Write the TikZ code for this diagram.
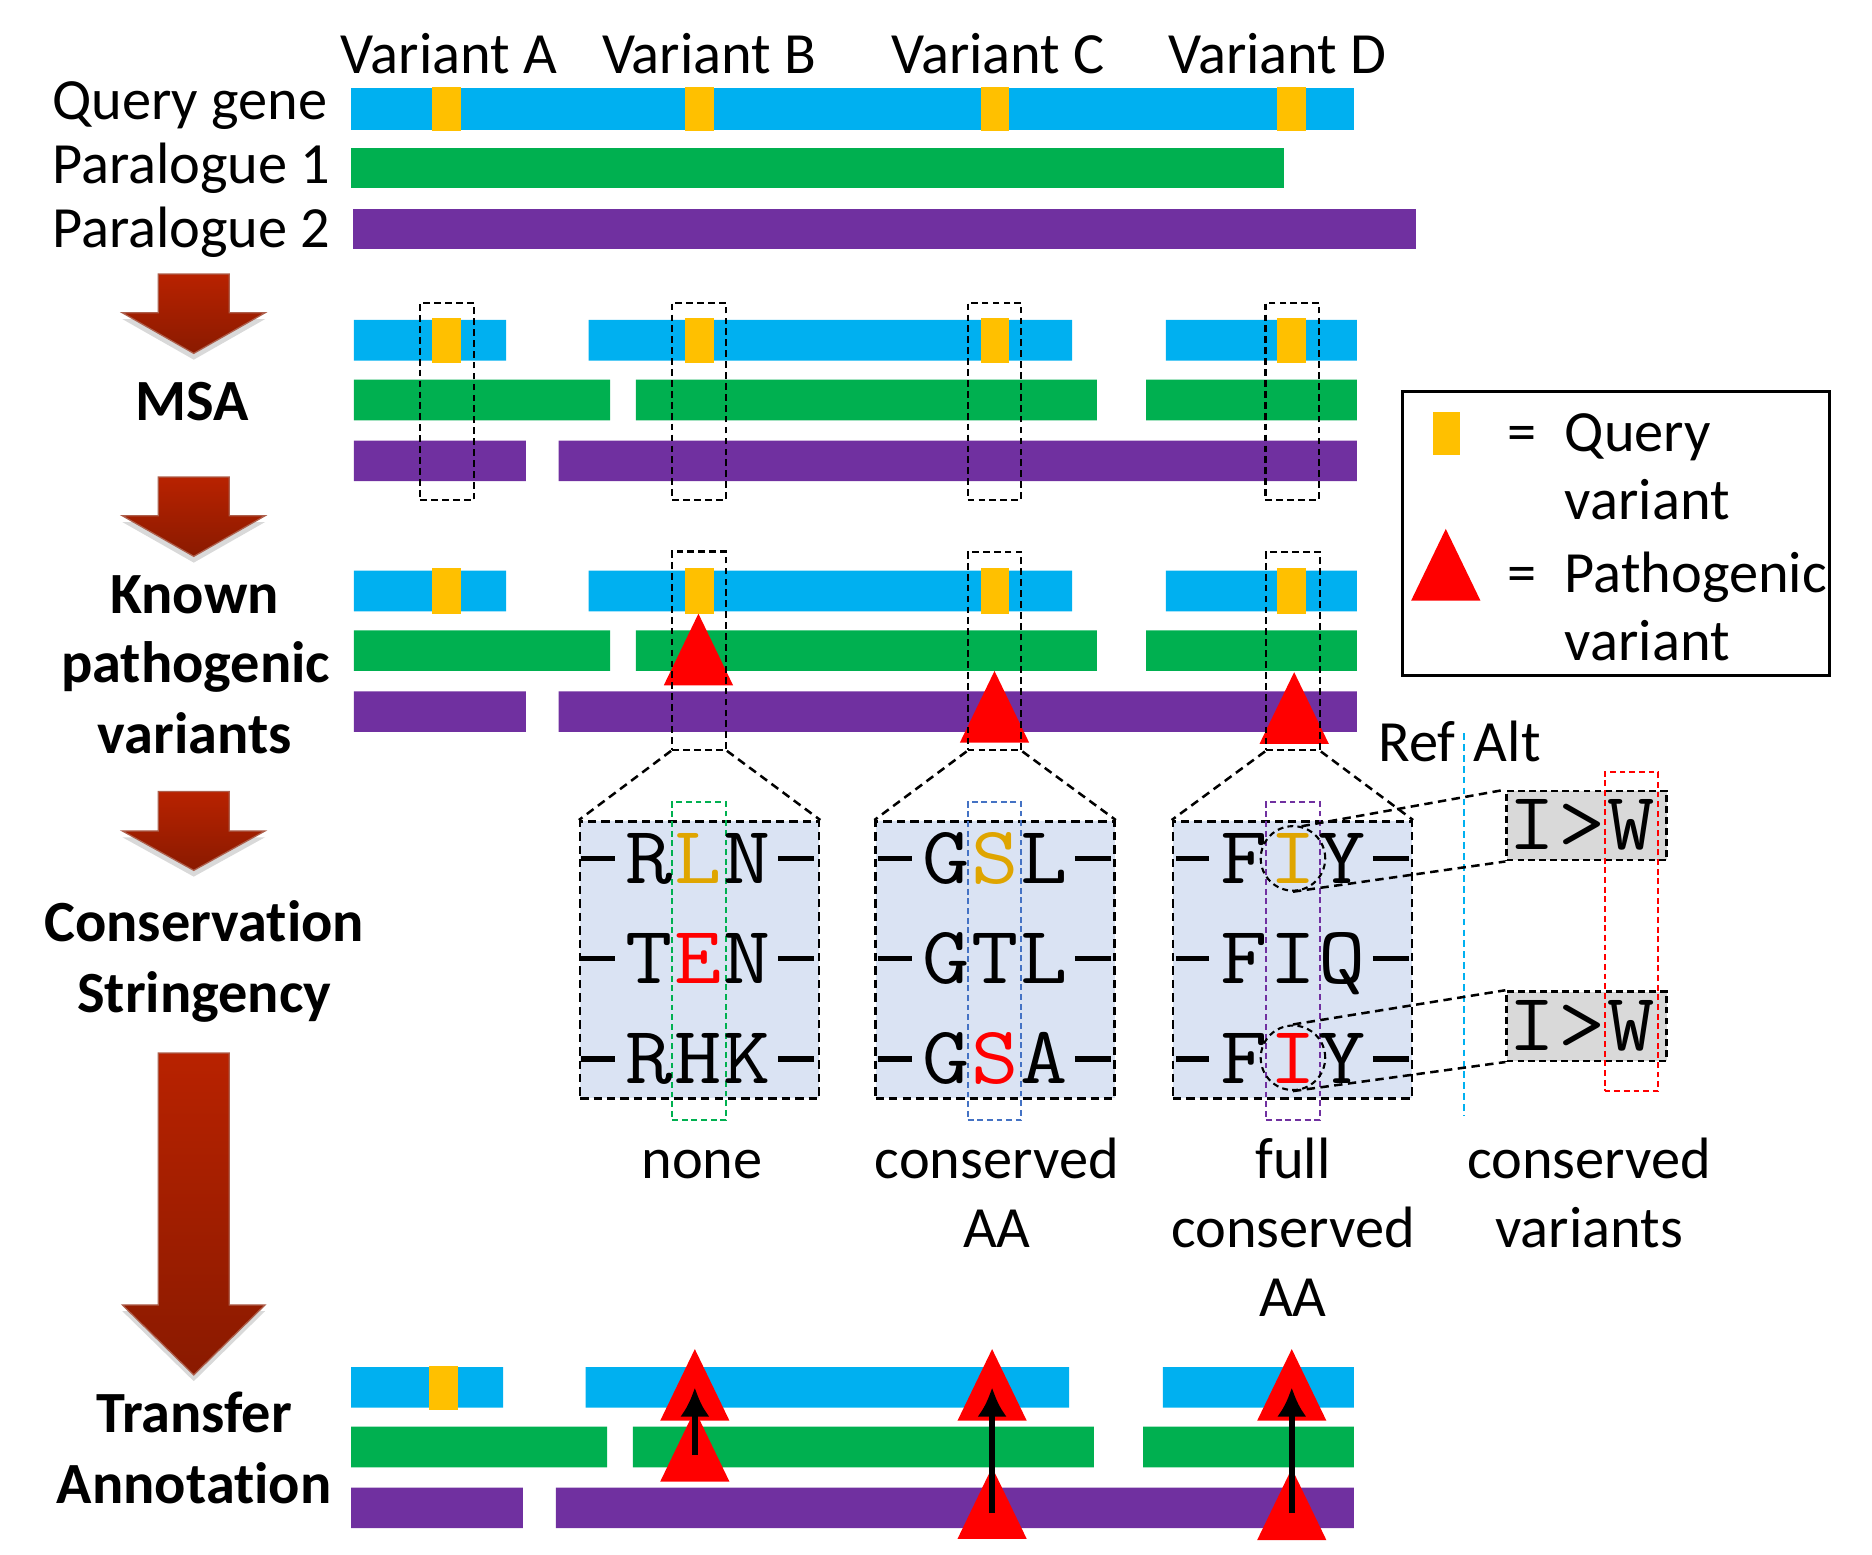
\documentclass[tikz,border=0pt]{standalone}
\usepackage{graphicx}
\usepackage{fontspec}
\setmainfont{Carlito}[Ligatures=NoCommon]
\usetikzlibrary{arrows.meta,shadows}
\definecolor{qblue}{HTML}{00B0F0}
\definecolor{pgreen}{HTML}{00B050}
\definecolor{ppurple}{HTML}{7030A0}
\definecolor{qyellow}{HTML}{FFC000}
\definecolor{patho}{HTML}{FF0000}
\definecolor{detfill}{HTML}{DAE3F3}
\definecolor{iwgray}{HTML}{D9D9D9}
\definecolor{aaorange}{HTML}{DFA500}
\definecolor{colblue}{HTML}{4472C4}
\definecolor{arrtop}{HTML}{B82200}
\definecolor{arrbot}{HTML}{8A1A00}

% big step arrow: top of shaft, shoulder, tip
\newcommand{\stagearrow}[3]{%
  \path[stagearr] (132.5,#1) -- (192,#1) -- (192,#2) -- (222,#2) -- (162.3,#3)
    -- (102.5,#2) -- (132.5,#2) -- cycle;}
% pathogenic triangle: x of tip, y of tip
\newcommand{\redtri}[2]{%
  \fill[patho] (#1-29,#2+60) -- (#1,#2) -- (#1+29,#2+60) -- cycle;}
% wide mono letter
\newcommand{\aaletter}[1]{\scalebox{1.12}[1]{#1}}
% one aligned row -X-Y-Z-
\newcommand{\aarow}[6]{%
  \node[aa] (#1-1) at (#2-41,#3) {\aaletter{#4}};
  \node[aa] (#1-2) at (#2,#3) {\aaletter{#5}};
  \node[aa] (#1-3) at (#2+41,#3) {\aaletter{#6}};
  \draw[aadash] (#2-98,#3) -- (#2-70,#3);
  \draw[aadash] (#2+67,#3) -- (#2+97,#3);}

\begin{document}
\begin{tikzpicture}[x=0.01cm,y=-0.01cm,
  lbl/.style={font=\fontsize{13.9}{16}\selectfont,inner sep=0pt},
  sect/.style={font=\fontsize{13.9}{16}\selectfont\bfseries,inner sep=0pt},
  aa/.style={font=\fontsize{19.5}{20}\selectfont\ttfamily,inner sep=0pt,text height=0.415cm,text depth=0cm},
  aadash/.style={line width=1.2pt},
  selbox/.style={draw,dash pattern=on 1.6pt off 1pt,line width=0.5pt,minimum width=0.45cm,inner sep=0pt},
  detbox/.style={draw,fill=detfill,dash pattern=on 2pt off 1.2pt,line width=0.6pt,minimum width=2cm,minimum height=2.32cm,inner sep=0pt},
  colbox/.style={dash pattern=on 1.4pt off 0.9pt,line width=0.5pt,minimum width=0.45cm,minimum height=2.66cm,inner sep=0pt},
  iwbox/.style={draw,fill=iwgray,dash pattern=on 1.6pt off 1pt,line width=0.6pt,minimum width=1.34cm,minimum height=0.58cm,inner sep=0pt},
  ring/.style={draw,circle,dash pattern=on 1.4pt off 1pt,line width=0.5pt,minimum size=0.54cm,inner sep=0pt},
  zoomline/.style={dash pattern=on 2pt off 1.3pt,line width=0.6pt},
  transfer/.style={line width=1.3pt,-{Latex[length=7pt,width=7pt]}},
  stagearr/.style={top color=arrtop,bottom color=arrbot,draw=arrbot!70!white,line width=0.3pt,
    drop shadow={shadow xshift=0pt,shadow yshift=-1.5pt,opacity=0.3}}]
\useasboundingbox (0,0) rectangle (1568,1302);

% genes
\node[lbl,anchor=base] (varA) at (376,61.6) {Variant A};
\node[lbl,anchor=base] (varB) at (594,61.6) {Variant B};
\node[lbl,anchor=base] (varC) at (836,61.6) {Variant C};
\node[lbl,anchor=base] (varD) at (1070,61.6) {Variant D};
\node[lbl,anchor=base west] (query) at (43,100.4) {Query gene};
\node[lbl,anchor=base west] (para1) at (43,154) {Paralogue 1};
\node[lbl,anchor=base west] (para2) at (43,207) {Paralogue 2};
\fill[qblue] (294,74) rectangle (1134,108.7);
\fill[pgreen] (294,124) rectangle (1075.5,157.5);
\fill[ppurple] (296,174.7) rectangle (1186,208.5);
\foreach \vx in {362,574,821.5,1070}
  \fill[qyellow] (\vx,73.2) rectangle ++(24,36.3);

% stage arrows and titles
\stagearrow{229.5}{262}{296}
\stagearrow{399.6}{432}{466}
\stagearrow{663}{696}{729}
\stagearrow{882}{1093}{1151.6}
\node[sect,anchor=base] (msa) at (161,352.5) {MSA};
\node[sect,anchor=base] (known1) at (163,513.6) {Known};
\node[sect,anchor=base] (known2) at (164,572) {pathogenic};
\node[sect,anchor=base] (known3) at (163,631) {variants};
\node[sect,anchor=base] (cons1) at (171,789) {Conservation};
\node[sect,anchor=base] (cons2) at (171,848) {Stringency};
\node[sect,anchor=base] (trans1) at (162.6,1200) {Transfer};
\node[sect,anchor=base] (trans2) at (162.6,1259) {Annotation};

% aligned rows: MSA, known, transfer
\foreach \dx/\dy in {0/0,0/210,-2.5/877}{
  \begin{scope}[shift={(\dx,\dy)}]
  \fill[qblue] (296.5,268) rectangle (424,302) (493,268) rectangle (898,302)
    (976.5,268) rectangle (1136.6,302);
  \fill[pgreen] (296.5,318) rectangle (511,352) (532.7,318) rectangle (918.8,352)
    (960,318) rectangle (1136.6,352);
  \fill[ppurple] (296.5,369) rectangle (440.5,403) (468,369) rectangle (1136.6,403);
  \end{scope}}
\foreach \vx in {362,574,821.5,1070}{
  \fill[qyellow] (\vx,266) rectangle ++(24,38);
  \fill[qyellow] (\vx,476) rectangle ++(24,38);}
\fill[qyellow] (359,1144) rectangle ++(24.6,37);

\node[selbox,minimum height=1.65cm] (msaA) at (374.5,336.5) {};
\node[selbox,minimum height=1.65cm] (msaB) at (585.5,336) {};
\node[selbox,minimum height=1.65cm] (msaC) at (833,336) {};
\node[selbox,minimum height=1.65cm] (msaD) at (1082.5,336) {};

\redtri{585}{514}
\redtri{833}{562}
\redtri{1084}{563}
\node[selbox,minimum height=1.66cm] (kB) at (585.5,545) {};
\node[selbox,minimum height=1.66cm] (kC) at (833,545.5) {};
\node[selbox,minimum height=1.66cm] (kD) at (1083,545.5) {};

% legend
\node[draw,line width=0.7pt,minimum width=3.57cm,minimum height=2.38cm,inner sep=0pt] (legend) at (1353.5,447) {};
\fill[qyellow] (1200,345) rectangle (1223,381);
\redtri{1211}{443}
\node[lbl,anchor=base] (eq1) at (1274.5,378) {=};
\node[lbl,anchor=base west] (lq1) at (1310,378) {Query};
\node[lbl,anchor=base west] (lq2) at (1310,435.5) {variant};
\node[lbl,anchor=base] (eq2) at (1274.5,496) {=};
\node[lbl,anchor=base west] (lp1) at (1310,496) {Pathogenic};
\node[lbl,anchor=base west] (lp2) at (1310,553) {variant};

% zoomed alignment columns
\node[detbox] (detB) at (586,804) {};
\node[detbox] (detC) at (833.5,804) {};
\node[detbox] (detD) at (1082.5,804) {};
\draw[zoomline] (kB.south west) -- (detB.north west);
\draw[zoomline] (kB.south east) -- (detB.north east);
\draw[zoomline] (kC.south west) -- (detC.north west);
\draw[zoomline] (kC.south east) -- (detC.north east);
\draw[zoomline] (kD.south west) -- (detD.north west);
\draw[zoomline] (kD.south east) -- (detD.north east);
\node[colbox,draw=pgreen] (colB) at (585.5,805) {};
\node[colbox,draw=colblue] (colC) at (833,805) {};
\node[colbox,draw=ppurple] (colD) at (1083,805) {};

\aarow{b1}{585}{719}{R}{\textcolor{aaorange}{L}}{N}
\aarow{b2}{585}{803}{T}{\textcolor{patho}{E}}{N}
\aarow{b3}{585}{887}{R}{H}{K}
\aarow{c1}{833.5}{719}{G}{\textcolor{aaorange}{S}}{L}
\aarow{c2}{833.5}{803}{G}{T}{L}
\aarow{c3}{833.5}{887}{G}{\textcolor{patho}{S}}{A}
\aarow{d1}{1083}{719}{F}{\textcolor{aaorange}{I}}{Y}
\aarow{d2}{1083}{803}{F}{I}{Q}
\aarow{d3}{1083}{887}{F}{\textcolor{patho}{I}}{Y}

\node[ring] (ringT) at (1083,719) {};
\node[ring] (ringB) at (1083,886) {};

% ref / alt
\node[lbl,anchor=base] (ref) at (1187,638) {Ref};
\node[lbl,anchor=base] (alt) at (1262.5,638) {Alt};
\draw[qblue,dash pattern=on 1.6pt off 1pt,line width=0.5pt] (1226,614) -- (1226,935);
\node[iwbox] (iwT) at (1329,691.5) {};
\node[iwbox] (iwB) at (1329,859.5) {};
\node[aa] (iwT-1) at (1283,691) {\aaletter{I}};
\node[aa] (iwT-2) at (1325,691) {\aaletter{>}};
\node[aa] (iwT-3) at (1366,691) {\aaletter{W}};
\node[aa] (iwB-1) at (1283,859) {\aaletter{I}};
\node[aa] (iwB-2) at (1325,859) {\aaletter{>}};
\node[aa] (iwB-3) at (1366,859) {\aaletter{W}};
\node[colbox,draw=patho,minimum height=2.67cm] (colAlt) at (1366.5,780.5) {};
\draw[zoomline] (ringT.75) -- (iwT.north west);
\draw[zoomline] (ringT.south) -- (iwT.south west);
\draw[zoomline] (ringB.north) -- (iwB.north west);
\draw[zoomline] (ringB.south) -- (iwB.south west);

% stringency levels
\node[lbl,anchor=base] (none) at (588,987) {none};
\node[lbl,anchor=base] (caa1) at (835,987) {conserved};
\node[lbl,anchor=base] (caa2) at (835,1045) {AA};
\node[lbl,anchor=base] (fcaa1) at (1083,987) {full};
\node[lbl,anchor=base] (fcaa2) at (1083,1045) {conserved};
\node[lbl,anchor=base] (fcaa3) at (1083,1103) {AA};
\node[lbl,anchor=base] (cvar1) at (1331,987) {conserved};
\node[lbl,anchor=base] (cvar2) at (1331,1045) {variants};

% transfer annotation
\redtri{582}{1130}
\redtri{831}{1130}
\redtri{1082}{1130}
\redtri{582}{1181}
\redtri{831}{1229}
\redtri{1082}{1230}
\coordinate (fromB) at (582,1219);
\coordinate (toB) at (582,1162);
\coordinate (fromC) at (831,1267);
\coordinate (toC) at (831,1162);
\coordinate (fromD) at (1082,1267);
\coordinate (toD) at (1082,1162);
\draw[transfer] (fromB) -- (toB);
\draw[transfer] (fromC) -- (toC);
\draw[transfer] (fromD) -- (toD);
\end{tikzpicture}
\end{document}
